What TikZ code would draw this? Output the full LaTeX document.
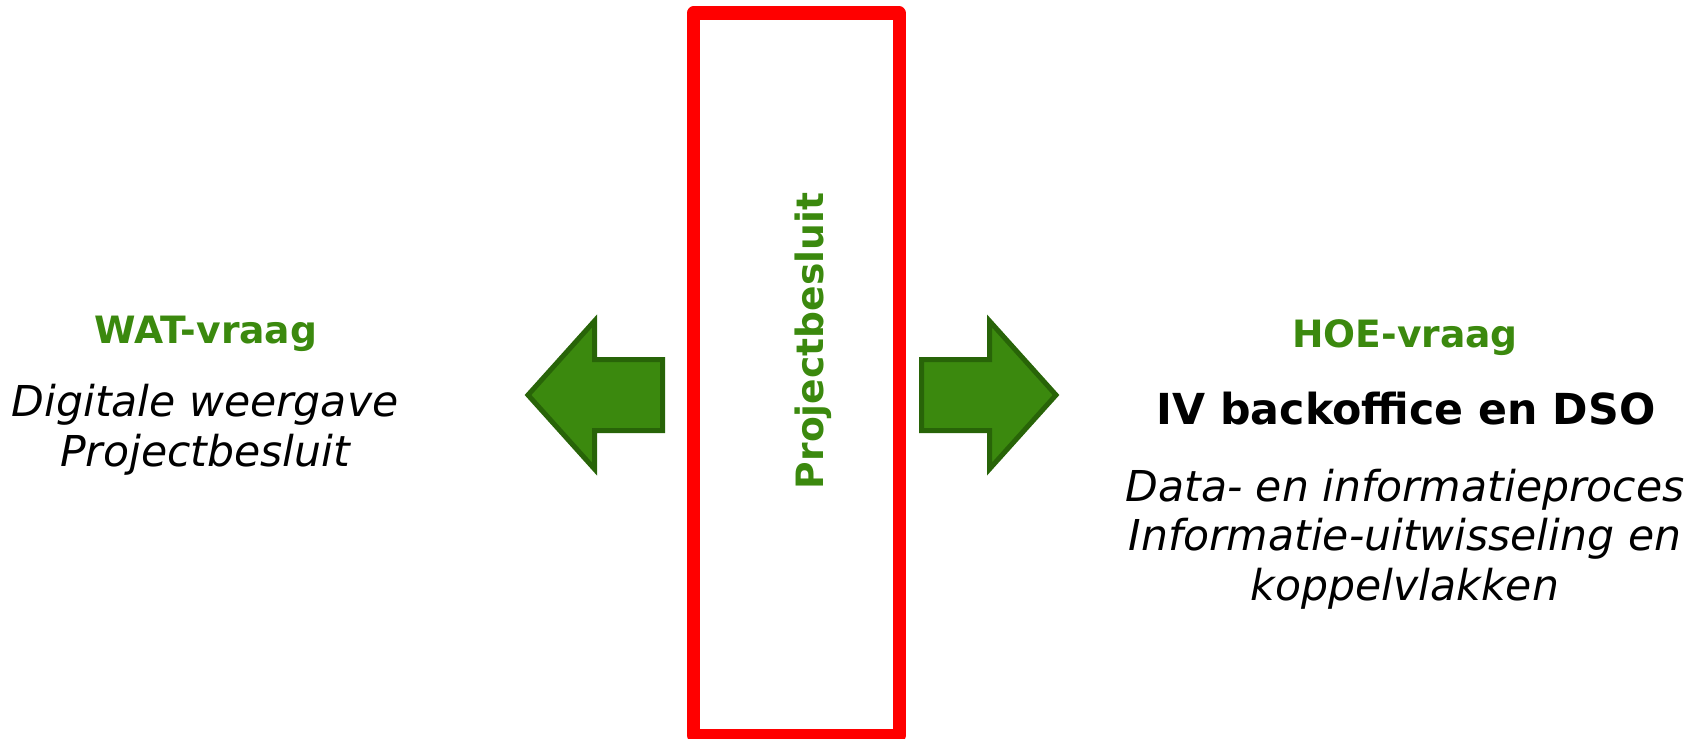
\documentclass[tikz,border=0pt]{standalone}
\usepackage{fontspec}
\setmainfont{DejaVu Sans}
\definecolor{vraaggreen}{HTML}{3B890E}
\definecolor{pijlrand}{HTML}{286408}
\tikzset{
  vraag/.style={inner sep=0pt, text=vraaggreen, font=\fontsize{10.7}{13}\selectfont\bfseries},
  uitleg/.style={inner sep=0pt, align=center, font=\fontsize{12.1}{14}\selectfont\itshape},
  kop/.style={inner sep=0pt, font=\fontsize{12.15}{14}\selectfont\bfseries},
  pijl/.style={fill=vraaggreen, draw=pijlrand, line width=0.05cm, line join=miter},
  besluitrand/.style={draw=red, line width=0.13cm, line join=round}
}
\begin{document}
\begin{tikzpicture}[x=0.01cm, y=-0.01cm]
  \useasboundingbox (0,0) rectangle (1708,739);
  \begin{scope}
    \draw[besluitrand] (693.5,13) rectangle (899,735.5);
    \node[vraag, rotate=90, anchor=base] (besluit) at (823,341) {Projectbesluit};

    \coordinate (wattip) at (528,395);
    \coordinate (hoetip) at (1056,395);
    \draw[pijl] (wattip)--++(66.5,-74)--++(0,38.5)--++(68,0)--++
    (0,71)--++(-68,0)--++(0,38.5)--cycle;
    \draw[pijl] (hoetip)--++(-66.5,-74)--++(0,38.5)--++(-68,0)--++
    (0,71)--++(68,0)--++(0,38.5)--cycle;

    \node[vraag, anchor=base] (wat) at (206,343) {WAT-vraag};
    \node[uitleg, anchor=base] (watuitleg) at (205,466) {Digitale weergave\\Projectbesluit};

    \node[vraag, anchor=base] (hoe) at (1405,347) {HOE-vraag};
    \node[kop, anchor=base] (iv) at (1406,424) {IV backoffice en DSO};
    \node[uitleg, anchor=base] (hoeuitleg) at (1405,600) {Data- en informatieproces\\Informatie-uitwisseling en\\koppelvlakken};
  \end{scope}
\end{tikzpicture}
\end{document}
